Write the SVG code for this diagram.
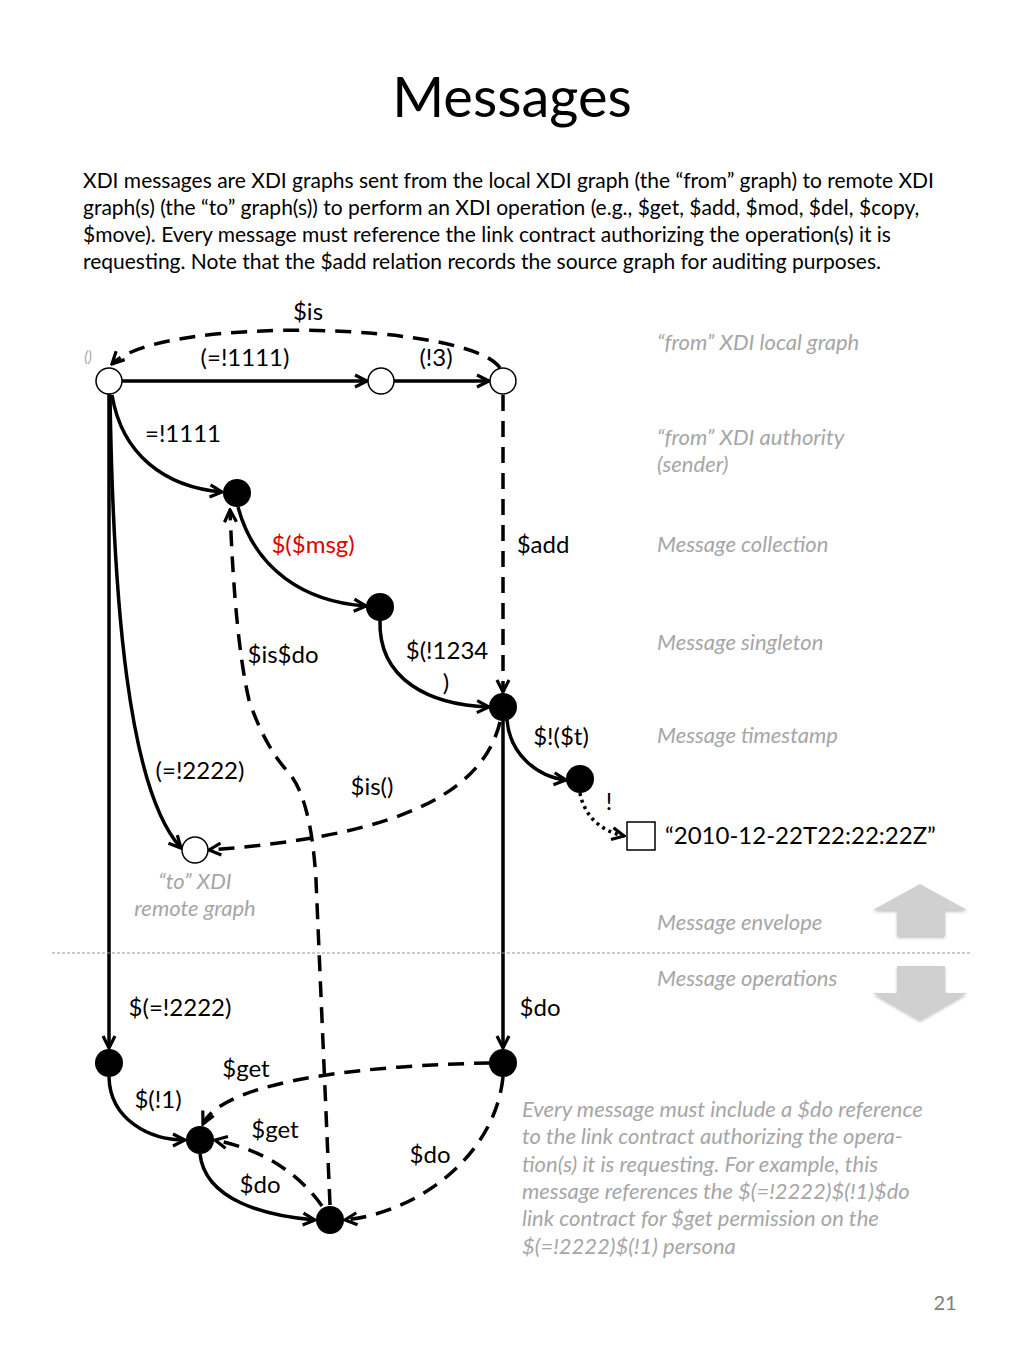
<svg xmlns="http://www.w3.org/2000/svg" width="1024" height="1365" viewBox="0 0 1024 1365">
<defs>
<marker id="ah" viewBox="0 0 16 16" refX="14" refY="8" markerWidth="16" markerHeight="16" markerUnits="userSpaceOnUse" orient="auto">
<path d="M2,2 L14,8 L2,14" fill="none" stroke="#000" stroke-width="3.2"/>
</marker>
<filter id="sh" x="-20%" y="-20%" width="140%" height="150%"><feDropShadow dx="0" dy="2" stdDeviation="1.5" flood-color="#888" flood-opacity="0.5"/></filter>
</defs>
<style>
.t{font-family:Lato,"Open Sans",sans-serif;fill:#000}
.lbl{font-family:Lato,"Open Sans",sans-serif;font-size:24px;fill:#000}
.g{font-family:Lato,"Open Sans",sans-serif;font-size:22px;font-style:italic;fill:#a6a6a6}
.s{fill:none;stroke:#000;stroke-width:3.5}
.d{fill:none;stroke:#000;stroke-width:3.5;stroke-dasharray:16,10}
.o{fill:#fff;stroke:#000;stroke-width:1.5}
.f{fill:#000}
</style>
<rect width="1024" height="1365" fill="#fff"/>
<text class="t" x="512" y="117" font-size="56" text-anchor="middle">Messages</text>
<g class="t" font-size="21">
<text x="83" y="188">XDI messages are XDI graphs sent from the local XDI graph (the “from” graph) to remote XDI</text>
<text x="83" y="215">graph(s) (the “to” graph(s)) to perform an XDI operation (e.g., $get, $add, $mod, $del, $copy,</text>
<text x="83" y="242">$move). Every message must reference the link contract authorizing the operation(s) it is</text>
<text x="83" y="269">requesting. Note that the $add relation records the source graph for auditing purposes.</text>
</g>
<g id="connectors">
<path class="d" d="M500,368 C470,322 160,315 112,364" marker-end="url(#ah)"/>
<path class="s" d="M122,381 L367,381" marker-end="url(#ah)"/>
<path class="s" d="M394,381 L489,381" marker-end="url(#ah)"/>
<path class="d" d="M503,395 L503,692" marker-end="url(#ah)"/>
<path class="s" d="M109,394 L109,1048" marker-end="url(#ah)"/>
<path class="s" d="M112,395 C122,455 165,487 222,492" marker-end="url(#ah)"/>
<path class="s" d="M238,507 C255,570 305,602 366,606" marker-end="url(#ah)"/>
<path class="s" d="M380,620 C378,680 430,705 489,707" marker-end="url(#ah)"/>
<path class="s" d="M110,395 C113,600 128,790 181,848" marker-end="url(#ah)"/>
<path class="d" d="M500,722 C480,805 370,838 209,850" marker-end="url(#ah)"/>
<path class="s" d="M507,720 C510,755 538,777 566,780" marker-end="url(#ah)"/>
<path fill="none" stroke="#000" stroke-width="3.5" stroke-dasharray="3,4" d="M580,793 C584,815 600,831 624,836" marker-end="url(#ah)"/>
<path class="s" d="M503,721 L503,1048" marker-end="url(#ah)"/>
<path class="s" d="M109,1077 C110,1120 150,1140 185,1140" marker-end="url(#ah)"/>
<path class="d" d="M490,1063 C380,1065 225,1078 203,1124" marker-end="url(#ah)"/>
<path class="d" d="M322,1206 C300,1175 265,1150 215,1140" marker-end="url(#ah)"/>
<path class="s" d="M200,1154 C205,1200 265,1216 315,1220" marker-end="url(#ah)"/>
<path class="d" d="M503,1077 C495,1155 420,1212 345,1220" marker-end="url(#ah)"/>
<path class="d" d="M330,1205 L316,880 Q311,797 288,772 Q264,745 249,700 Q235,640 230,510" marker-end="url(#ah)"/>
</g>
<g id="n-A"><circle class="o" cx="109" cy="381" r="13"/></g>
<g id="n-B"><circle class="o" cx="381" cy="381" r="13"/></g>
<g id="n-C"><circle class="o" cx="503" cy="381" r="13"/></g>
<g id="n-E"><circle class="f" cx="237" cy="493" r="14"/></g>
<g id="n-F"><circle class="f" cx="380" cy="607" r="14"/></g>
<g id="n-D"><circle class="f" cx="503" cy="707" r="14"/></g>
<g id="n-I"><circle class="f" cx="580" cy="779" r="14"/></g>
<g id="n-box"><rect x="627" y="822" width="28" height="28" fill="#fff" stroke="#000" stroke-width="1.5"/></g>
<g id="n-H"><circle class="o" cx="195" cy="850" r="13"/></g>
<g id="n-G"><circle class="f" cx="109" cy="1063" r="14"/></g>
<g id="n-J"><circle class="f" cx="503" cy="1063" r="14"/></g>
<g id="n-K"><circle class="f" cx="200" cy="1140" r="14"/></g>
<g id="n-L"><circle class="f" cx="330" cy="1220" r="14"/></g>
<g id="labels">
<text class="lbl" x="308" y="320" text-anchor="middle">$is</text>
<text x="88" y="362" font-family="Lato,sans-serif" font-size="15" font-style="italic" fill="#a6a6a6" text-anchor="middle">()</text>
<text class="lbl" x="245" y="366" text-anchor="middle">(=!1111)</text>
<text class="lbl" x="436" y="366" text-anchor="middle">(!3)</text>
<text class="lbl" x="183" y="442" text-anchor="middle">=!1111</text>
<text class="lbl" x="313" y="553" text-anchor="middle" style="fill:#e00000">$($msg)</text>
<text class="lbl" x="543" y="553" text-anchor="middle">$add</text>
<text class="lbl" x="283" y="663" text-anchor="middle">$is$do</text>
<text class="lbl" x="447" y="659" text-anchor="middle">$(!1234</text>
<text class="lbl" x="446" y="691" text-anchor="middle">)</text>
<text class="lbl" x="561" y="745" text-anchor="middle">$!($t)</text>
<text class="lbl" x="200" y="779" text-anchor="middle">(=!2222)</text>
<text class="lbl" x="372" y="795" text-anchor="middle">$is()</text>
<text class="lbl" x="609" y="810" text-anchor="middle">!</text>
<text class="lbl" x="665" y="844">“2010-12-22T22:22:22Z”</text>
<text class="lbl" x="180" y="1016" text-anchor="middle">$(=!2222)</text>
<text class="lbl" x="540" y="1016" text-anchor="middle">$do</text>
<text class="lbl" x="246" y="1077" text-anchor="middle">$get</text>
<text class="lbl" x="158" y="1108" text-anchor="middle">$(!1)</text>
<text class="lbl" x="275" y="1138" text-anchor="middle">$get</text>
<text class="lbl" x="430" y="1163" text-anchor="middle">$do</text>
<text class="lbl" x="260" y="1193" text-anchor="middle">$do</text>
</g>
<g id="notes" class="g">
<text x="657" y="350">“from” XDI local graph</text>
<text x="657" y="445">“from” XDI authority</text>
<text x="657" y="472">(sender)</text>
<text x="657" y="552">Message collection</text>
<text x="657" y="650">Message singleton</text>
<text x="657" y="743">Message timestamp</text>
<text x="195" y="889" text-anchor="middle">“to” XDI</text>
<text x="195" y="916" text-anchor="middle">remote graph</text>
<text x="657" y="930">Message envelope</text>
<text x="657" y="986">Message operations</text>
<text x="522" y="1117">Every message must include a $do reference</text>
<text x="522" y="1144">to the link contract authorizing the opera-</text>
<text x="522" y="1172">tion(s) it is requesting. For example, this</text>
<text x="522" y="1199">message references the $(=!2222)$(!1)$do</text>
<text x="522" y="1226">link contract for $get permission on the</text>
<text x="522" y="1254">$(=!2222)$(!1) persona</text>
</g>
<line x1="52" y1="953" x2="972" y2="953" stroke="#999" stroke-width="1" stroke-dasharray="3,2"/>
<g id="arrow-up"><path d="M920,884 L967,910 L945,910 L945,936 L897,936 L897,910 L873,910 Z" fill="#d0d0d0" filter="url(#sh)"/></g>
<g id="arrow-down"><path d="M897,966 L945,966 L945,993 L967,993 L920,1020 L873,993 L897,993 Z" fill="#d0d0d0" filter="url(#sh)"/></g>
<text x="945" y="1310" font-family="Lato,sans-serif" font-size="20" fill="#7f7f7f" text-anchor="middle">21</text>
</svg>
